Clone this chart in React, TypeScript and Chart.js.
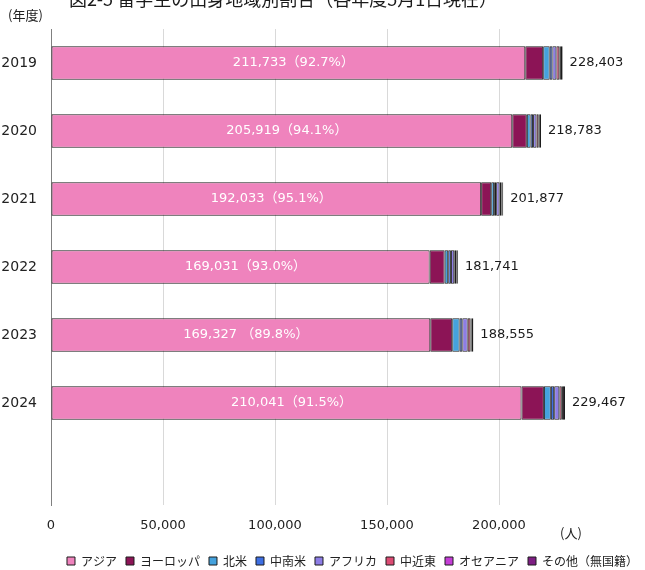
import React, { useEffect, useRef } from 'react';
import { Chart, registerables } from 'chart.js';

Chart.register(...registerables);

const years = ['2019', '2020', '2021', '2022', '2023', '2024', ''];
const seriesNames = ['アジア', 'ヨーロッパ', '北米', '中南米', 'アフリカ', '中近東', 'オセアニア', 'その他（無国籍）'];
const asia = [211733, 205919, 192033, 169031, 169327, 210041, null];
const europe = [8000, 6500, 4500, 6700, 9800, 10000, null];
const northAmerica = [2900, 1700, 1300, 1600, 3300, 3100, null];
const latinAmerica = [1200, 1100, 900, 1200, 1200, 1500, null];
const africa = [1800, 1500, 1500, 1500, 2400, 2300, null];
const middleEast = [1300, 1000, 800, 900, 1200, 1100, null];
const oceania = [700, 500, 400, 400, 600, 500, null];
const other = [770, 564, 444, 410, 728, 926, null];
const totals = [228403, 218783, 201877, 181741, 188555, 229467];
const asiaLabels = ['211,733（92.7%）', '205,919（94.1%）', '192,033（95.1%）', '169,031（93.0%）', '169,327 （89.8%）', '210,041（91.5%）'];
const xTickValues = [0, 50000, 100000, 150000, 200000];
const colors = ['#EF83BD', '#8C1456', '#45A2DD', '#3E6FE3', '#8D7DE6', '#DC4B73', '#C43DD6', '#7E1E83'];
const titleText = '図2-5 留学生の出身地域別割合（各年度5月1日現在）';

const LATIN = '"DejaVu Sans", "Noto Sans CJK JP", sans-serif';
const CJK = '"Noto Sans CJK JP", "DejaVu Sans", sans-serif';

export default function App() {
  const ref = useRef<HTMLCanvasElement | null>(null);
  useEffect(() => {
    if (!ref.current) return;
    const series = [asia, europe, northAmerica, latinAmerica, africa, middleEast, oceania, other];
    const annot = {
      id: 'annot',
      afterLayout(chart: any) {
        const lg = chart.legend;
        if (!lg) return;
        const pad = 9;
        const dy = 561 - (lg.top + pad + 6);
        lg.top += dy;
        lg.bottom += dy;
        const dx = 47;
        lg.left += dx;
        lg.right += dx;
      },
      afterDraw(chart: any) {
        const ctx = chart.ctx;
        ctx.save();
        ctx.fillStyle = '#1a1a1a';
        ctx.font = `18px ${CJK}`;
        ctx.textAlign = 'center';
        ctx.textBaseline = 'alphabetic';
        ctx.fillText(titleText, 283, 6);
        ctx.font = `13px ${CJK}`;
        ctx.textAlign = 'left';
        ctx.textBaseline = 'middle';
        ctx.fillStyle = '#222';
        ctx.fillText('(年度)', 8, 15);
        ctx.fillText('(人)', 560, 533);
        const m0 = chart.getDatasetMeta(0);
        ctx.font = `13px ${LATIN}`;
        m0.data.forEach((el: any, i: number) => {
          if (asia[i] == null) return;
          ctx.fillStyle = '#ffffff';
          ctx.textAlign = 'center';
          ctx.fillText(asiaLabels[i], (el.x + el.base) / 2 + 5, el.y);
        });
        const mLast = chart.getDatasetMeta(series.length - 1);
        mLast.data.forEach((el: any, i: number) => {
          if (totals[i] == null) return;
          ctx.fillStyle = '#1a1a1a';
          ctx.textAlign = 'left';
          ctx.fillText(totals[i].toLocaleString('en-US'), el.x + 7, el.y);
        });
        ctx.restore();
      },
    };
    const chart = new Chart(ref.current, {
      type: 'bar',
      data: {
        labels: years,
        datasets: series.map((s, i) => ({
          label: seriesNames[i],
          data: s,
          backgroundColor: colors[i],
          borderColor: '#1c1c1c',
          borderWidth: 1,
          borderSkipped: false,
          barPercentage: 0.49,
          categoryPercentage: 1,
        })),
      },
      options: {
        indexAxis: 'y',
        responsive: false,
        animation: false,
        devicePixelRatio: 1,
        layout: { padding: { top: 29, right: 34, left: 0, bottom: 0 } },
        scales: {
          x: {
            stacked: true,
            min: 0,
            max: 250000,
            ticks: {
              stepSize: 50000,
              autoSkip: false,
              maxRotation: 0,
              padding: 13,
              color: '#222',
              font: { family: LATIN, size: 13 },
              callback: (v: any) => Number(v).toLocaleString('en-US'),
            },
            grid: { color: '#d9d9d9', drawTicks: false, lineWidth: 1 },
            border: { display: false },
            afterBuildTicks: (s: any) => {
              s.ticks = xTickValues.map((v) => ({ value: v }));
            },
            afterFit: (s: any) => {
              const lh = s.chart.legend ? s.chart.legend.height : 0;
              s.height = 570 - 505 - lh;
            },
          },
          y: {
            stacked: true,
            ticks: { padding: 14, color: '#222', font: { family: LATIN, size: 14 } },
            grid: { display: false, drawTicks: false },
            border: { display: true, color: '#808080', width: 1 },
            afterFit: (s: any) => {
              s.width = 51;
            },
          },
        },
        plugins: {
          legend: {
            position: 'bottom',
            labels: { boxWidth: 8, boxHeight: 8, padding: 9, color: '#222', font: { family: CJK, size: 12 } },
          },
          tooltip: { enabled: false },
        },
      } as any,
      plugins: [annot],
    });
    return () => chart.destroy();
  }, []);
  return (
    <div style={{ position: 'absolute', left: 0, top: 0, width: 645, height: 570, background: '#fff' }}>
      <canvas ref={ref} width={645} height={570} style={{ display: 'block' }} />
    </div>
  );
}
